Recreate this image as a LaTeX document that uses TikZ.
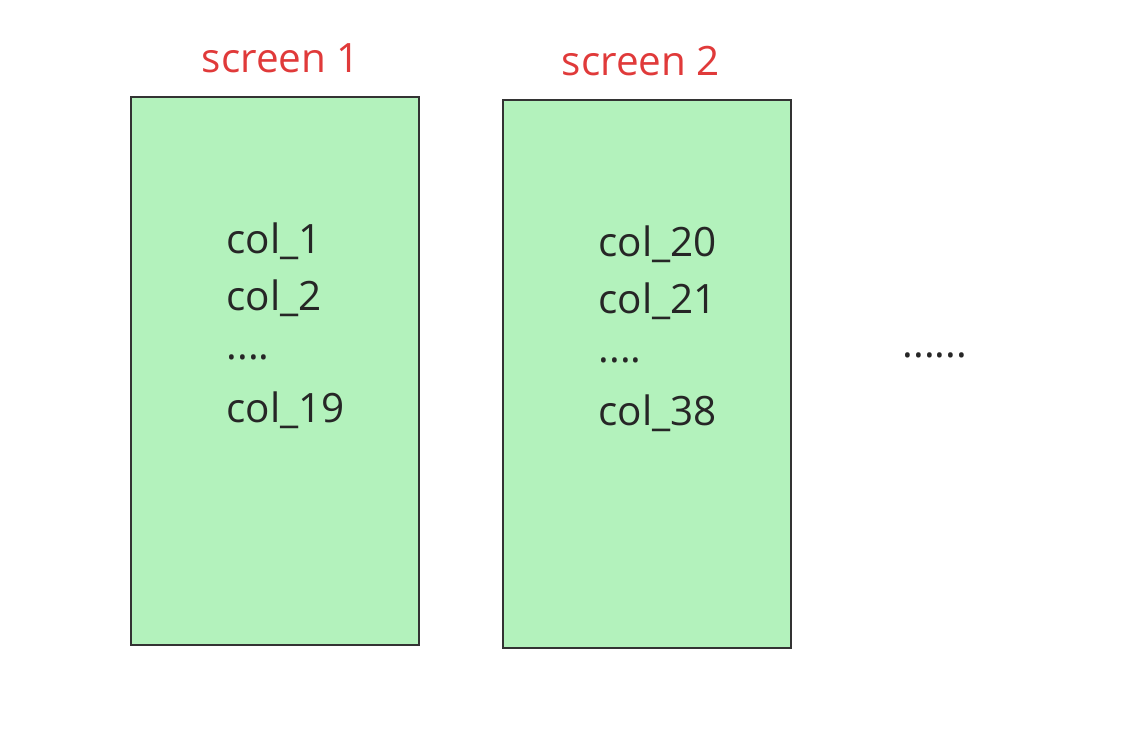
\documentclass[tikz,border=0pt]{standalone}
\usepackage{fontspec}
\setmainfont{Open Sans}
\usetikzlibrary{positioning}
\definecolor{screengreen}{HTML}{B3F2BC}
\definecolor{titlered}{HTML}{E03A3A}
\tikzset{
  screenbox/.style={draw=black!80,fill=screengreen,line width=0.6pt},
  coltext/.style={anchor=west,inner sep=0,font=\fontsize{11.5}{14}\selectfont,text=black!85},
  screentitle/.style={inner sep=0,font=\fontsize{11.5}{14}\selectfont,text=titlered}
}
\begin{document}
\begin{tikzpicture}[x=0.01cm,y=-0.01cm]
  \useasboundingbox (0,0) rectangle (1123,729);
  % SCREENS
  \draw[screenbox] (131,97) rectangle (419,645);
  \draw[screenbox] (503,100) rectangle (791,648);
  \node[screentitle] (t1) at (281,58) {screen 1};
  \node[screentitle] (t2) at (641,61) {screen 2};
  % COLUMNS
  \node[coltext] (a1) at (226,241) {col\_1};
  \node[coltext] (a2) at (226,298) {col\_2};
  \node[coltext] (a3) at (226,357) {....};
  \node[coltext] (a4) at (226,410) {col\_19};
  \node[coltext] (b1) at (598,244) {col\_20};
  \node[coltext] (b2) at (598,301) {col\_21};
  \node[coltext] (b3) at (598,360) {....};
  \node[coltext] (b4) at (598,413) {col\_38};
  \node[coltext] (more) at (902,355) {......};
\end{tikzpicture}
\end{document}
